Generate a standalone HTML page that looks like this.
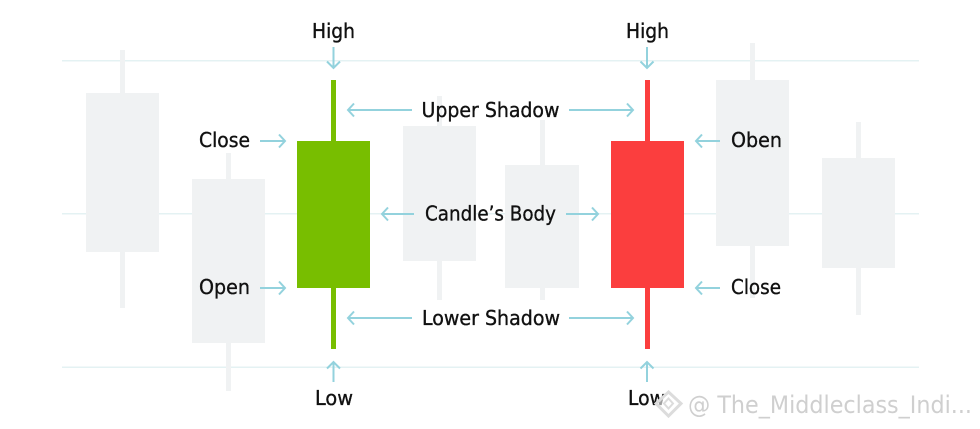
<!DOCTYPE html>
<html>
<head>
<meta charset="utf-8">
<style>
html,body{margin:0;padding:0;background:#fff;width:980px;height:429px;overflow:hidden}
svg{display:block}
text{font-family:"DejaVu Sans","Liberation Sans",sans-serif;font-size:20px;fill:#111;stroke:#111;stroke-width:.35px}
.w{font-size:24px;fill:#cfcfcf;stroke:none}
.a{fill:none;stroke:#93d2dd;stroke-width:2}
</style>
</head>
<body>
<svg width="980" height="429" viewBox="0 0 980 429" xmlns="http://www.w3.org/2000/svg">
<rect width="980" height="429" fill="#fff"/>
<g fill="#e4f2f3">
<rect x="62" y="60" width="857" height="1.5"/>
<rect x="62" y="213" width="857" height="1.5"/>
<rect x="62" y="366.500" width="857" height="1.5"/>
</g>
<g fill="#f0f2f3">
<rect x="120" y="50" width="5" height="258"/><rect x="86" y="93" width="73" height="159"/>
<rect x="226" y="153" width="5" height="238"/><rect x="192" y="179" width="73" height="164"/>
<rect x="437" y="96" width="5" height="204"/><rect x="403" y="126" width="73" height="135"/>
<rect x="540" y="120" width="5" height="180"/><rect x="505" y="165" width="74" height="123"/>
<rect x="750" y="43" width="5" height="255"/><rect x="716" y="80" width="73" height="166"/>
<rect x="856" y="122" width="5" height="193"/><rect x="822" y="158" width="73" height="110"/>
</g>
<rect x="331" y="80" width="5" height="269" fill="#78be00"/>
<rect x="297" y="141" width="73" height="147" fill="#78be00"/>
<rect x="645" y="80" width="5" height="269" fill="#fb3e3e"/>
<rect x="611" y="141" width="73" height="147" fill="#fb3e3e"/>

<g class="a">
<path d="M333.500 47V68M327 61.500L333.500 68L340 61.500"/>
<path d="M647 47V68M640.500 61.500L647 68L653.500 61.500"/>
<path d="M333.500 382V362M327 368.500L333.500 362L340 368.500"/>
<path d="M647 382V362M640.500 368.500L647 362L653.500 368.500"/>
<path d="M260 141H285M279 134.500L285 141L279 147.500"/>
<path d="M260 288H285M279 281.500L285 288L279 294.500"/>
<path d="M720 141H696M702 134.500L696 141L702 147.500"/>
<path d="M720 288H696M702 281.500L696 288L702 294.500"/>
<path d="M412 110H348M354 103.500L348 110L354 116.500"/>
<path d="M569 110H633M627 103.500L633 110L627 116.500"/>
<path d="M412 318H348M354 311.500L348 318L354 324.500"/>
<path d="M569 318H633M627 311.500L633 318L627 324.500"/>
<path d="M414 214H382M388 207.500L382 214L388 220.500"/>
<path d="M566 214H598M592 207.500L598 214L592 220.500"/>
</g>

<text x="312" y="38" textLength="43" lengthAdjust="spacingAndGlyphs">High</text>
<text x="626" y="38" textLength="43" lengthAdjust="spacingAndGlyphs">High</text>
<text x="199" y="147" textLength="51" lengthAdjust="spacingAndGlyphs">Close</text>
<text x="199" y="294" textLength="51" lengthAdjust="spacingAndGlyphs">Open</text>
<text x="731" y="147" textLength="51" lengthAdjust="spacingAndGlyphs">Oben</text>
<text x="731" y="294" textLength="50" lengthAdjust="spacingAndGlyphs">Close</text>
<text x="421.500" y="117" textLength="138" lengthAdjust="spacingAndGlyphs">Upper Shadow</text>
<text x="425" y="220.500" textLength="131" lengthAdjust="spacingAndGlyphs">Candle’s Body</text>
<text x="422" y="325" textLength="138" lengthAdjust="spacingAndGlyphs">Lower Shadow</text>
<text x="315" y="405" textLength="38" lengthAdjust="spacingAndGlyphs">Low</text>
<text x="628" y="405" textLength="37" lengthAdjust="spacingAndGlyphs">Low</text>

<g fill="none" stroke="#dcdcdc" stroke-width="3">
<path d="M668.500 392L681 403.500L668.500 416L656 403.500Z" fill="#fff" fill-opacity=".6"/>
<path d="M668.500 398.500L673 403.500L668.500 408.500L664 403.500Z" stroke-width="2"/>
</g>
<text class="w" x="688" y="413" textLength="284" lengthAdjust="spacingAndGlyphs">@ The_Middleclass_Indi...</text>
</svg>
</body>
</html>
